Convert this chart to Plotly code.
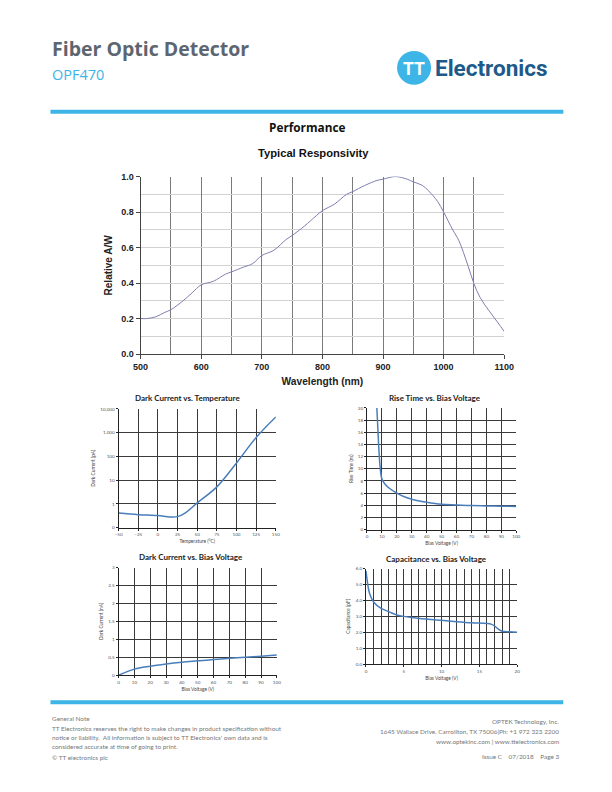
"""
OPF470 datasheet page 3 - performance curves.
"""

import plotly.graph_objects as go

W, H = 612, 792

# the photographed page comes out slightly shrunk; positions below are given
# in target-picture pixels and mapped back to paper units
SX, OX = 0.969, 7.6
SY, OY = 0.99, 4.0

COLORS = {
    "blue_bar": "#3db5e6",
    "header": "#5d6670",
    "logo_text": "#1d5a8a",
    "resp_line": "#7f7fb0",
    "excel_blue": "#4a7ebb",
    "footer": "#777777",
}

# Typical responsivity
resp_wl = [500, 510, 525, 540, 550, 570, 585, 600, 620, 640, 650, 670, 685, 700,
           720, 740, 750, 770, 790, 800, 820, 840, 850, 870, 890, 900, 920, 940,
           950, 965, 975, 990, 1000, 1015, 1025, 1040, 1050, 1060, 1075, 1090, 1100]
resp_val = [0.20, 0.20, 0.21, 0.235, 0.25, 0.30, 0.345, 0.39, 0.41, 0.45, 0.463, 0.49,
            0.51, 0.555, 0.585, 0.645, 0.668, 0.72, 0.78, 0.808, 0.845, 0.90, 0.915,
            0.95, 0.978, 0.985, 1.0, 0.985, 0.97, 0.95, 0.92, 0.86, 0.80, 0.70, 0.64,
            0.50, 0.397, 0.32, 0.244, 0.175, 0.127]

# Dark current vs temperature
dct_temp = [-50, -25, 0, 15, 25, 35, 50, 75, 100, 125, 150]
dct_pa = [0.41, 0.35, 0.32, 0.28, 0.29, 0.42, 1.1, 5.2, 53, 630, 4600]
dct_ticks = [0.1, 1, 10, 100, 1000, 10000]
dct_ticktext = ["0", "1", "10", "100", "1,000", "10,000"]

# Rise time vs bias voltage
rt_bias = [6.6, 7.2, 7.8, 8.4, 9, 10, 12, 15, 20, 25, 30, 40, 50, 60, 70, 80, 90, 100]
rt_ns = [20, 17, 14, 11.5, 9.8, 8.3, 7.5, 6.8, 6.0, 5.4, 5.0, 4.5, 4.15, 4.05, 3.95,
         3.9, 3.85, 3.8]

# Dark current vs bias voltage
dcb_bias = [0, 10, 20, 30, 40, 50, 60, 70, 80, 90, 100]
dcb_na = [0, 0.17, 0.25, 0.31, 0.36, 0.40, 0.44, 0.47, 0.50, 0.53, 0.56]

# Capacitance vs bias voltage
cap_bias = [0, 0.3, 0.5, 1, 2, 3, 4, 5, 6, 8, 10, 12, 14, 16, 16.6, 17, 17.5, 18, 19, 20]
cap_pf = [5.85, 4.8, 4.4, 3.9, 3.5, 3.3, 3.1, 3.0, 2.93, 2.83, 2.75, 2.67, 2.6, 2.55,
          2.5, 2.4, 2.2, 2.07, 2.03, 2.0]
cap_ticks = [0, 1, 2, 3, 4, 5, 6]
cap_ticktext = ["0.0", "1.0", "2.0", "3.0", "4.0", "5.0", "6.0"]


def px(x):
    return (x - OX) / SX / W


def py(y):
    return 1 - (y - OY) / SY / H


def dom_x(left, right):
    return [px(left), px(right)]


def dom_y(top, bottom):
    return [py(bottom), py(top)]


fig = go.Figure()

fig.add_trace(go.Scatter(x=resp_wl, y=resp_val, mode="lines", line_shape="spline",
                         line=dict(color=COLORS["resp_line"], width=1),
                         xaxis="x", yaxis="y"))
fig.add_trace(go.Scatter(x=dct_temp, y=dct_pa, mode="lines", line_shape="spline",
                         line=dict(color=COLORS["excel_blue"], width=1.5),
                         xaxis="x2", yaxis="y2"))
fig.add_trace(go.Scatter(x=rt_bias, y=rt_ns, mode="lines", line_shape="spline",
                         line=dict(color=COLORS["excel_blue"], width=1.5),
                         xaxis="x3", yaxis="y3"))
fig.add_trace(go.Scatter(x=dcb_bias, y=dcb_na, mode="lines", line_shape="spline",
                         line=dict(color=COLORS["excel_blue"], width=1.5),
                         xaxis="x4", yaxis="y4"))
fig.add_trace(go.Scatter(x=cap_bias, y=cap_pf, mode="lines", line_shape="spline",
                         line=dict(color=COLORS["excel_blue"], width=1.5),
                         xaxis="x5", yaxis="y5"))

arial_bold = dict(family="Liberation Sans", size=9, color="#222", weight="bold")
small_tick = dict(family="Lato", size=4.6, color="#555")
small_title = dict(family="Lato", size=4.8, color="#444")

small_axis = dict(
    showline=True, linecolor="#222", linewidth=1,
    showgrid=True, gridcolor="#3a3a3a", gridwidth=1.1,
    ticks="outside", ticklen=2, tickcolor="#222",
    tickfont=small_tick, zeroline=False, fixedrange=True,
)

fig.update_layout(
    width=W, height=H,
    margin=dict(l=0, r=0, t=0, b=0),
    paper_bgcolor="white", plot_bgcolor="white",
    showlegend=False,
    # main responsivity chart
    xaxis=dict(
        domain=dom_x(140, 503), anchor="y", range=[500, 1100], dtick=100,
        showgrid=True, gridcolor="#7a7a7a", gridwidth=1,
        minor=dict(dtick=50, showgrid=True, gridcolor="#7a7a7a", gridwidth=1),
        showline=True, linecolor="#444", ticks="outside", ticklen=4,
        tickcolor="#444", tickfont=arial_bold, zeroline=False,
        title=dict(text="Wavelength (nm)", standoff=6,
                   font=dict(family="Liberation Sans", size=10.2, color="#222",
                             weight="bold")),
    ),
    yaxis=dict(
        domain=dom_y(176, 354), anchor="x", range=[0, 1], dtick=0.2,
        tickformat=".1f",
        showgrid=True, gridcolor="#d2d2d2", gridwidth=1,
        minor=dict(dtick=0.1, showgrid=True, gridcolor="#d2d2d2", gridwidth=1),
        showline=True, linecolor="#444", ticks="outside", ticklen=4,
        tickcolor="#444", tickfont=arial_bold, zeroline=False,
        title=dict(text="Relative A/W", standoff=6,
                   font=dict(family="Liberation Sans", size=10, color="#222",
                             weight="bold")),
    ),
    # dark current vs temperature
    xaxis2=dict(small_axis, domain=dom_x(118, 275), anchor="y2", range=[-50, 150],
                dtick=25, title=dict(text="Temperature (°C)", standoff=3, font=small_title)),
    yaxis2=dict(small_axis, domain=dom_y(409, 528), anchor="x2", type="log",
                range=[-1, 4], tickvals=dct_ticks, ticktext=dct_ticktext,
                title=dict(text="Dark Current (pA)", standoff=4, font=small_title)),
    # rise time vs bias voltage
    xaxis3=dict(small_axis, domain=dom_x(366, 515), anchor="y3", range=[0, 100],
                dtick=10, title=dict(text="Bias Voltage (V)", standoff=3, font=small_title)),
    yaxis3=dict(small_axis, domain=dom_y(408, 530), anchor="x3", range=[0, 20],
                dtick=2, title=dict(text="Rise Time (ns)", standoff=4, font=small_title)),
    # dark current vs bias voltage
    xaxis4=dict(small_axis, domain=dom_x(118, 276), anchor="y4", range=[0, 100],
                dtick=10, title=dict(text="Bias Voltage (V)", standoff=3, font=small_title)),
    yaxis4=dict(small_axis, domain=dom_y(568, 676), anchor="x4", range=[0, 3],
                dtick=0.5, title=dict(text="Dark Current (nA)", standoff=4, font=small_title)),
    # capacitance vs bias voltage
    xaxis5=dict(small_axis, domain=dom_x(365, 516), anchor="y5", range=[0, 20],
                dtick=5, minor=dict(dtick=1, showgrid=True, gridcolor="#3a3a3a"),
                title=dict(text="Bias Voltage (V)", standoff=3, font=small_title)),
    yaxis5=dict(small_axis, domain=dom_y(569, 665), anchor="x5", range=[0, 6],
                tickvals=cap_ticks, ticktext=cap_ticktext,
                title=dict(text="Capacitance (pF)", standoff=4, font=small_title)),
)


def add_text(x, y, text, size, color, family="Open Sans", bold=False,
             xanchor="left", yanchor="middle"):
    fig.add_annotation(
        x=px(x), y=py(y), xref="paper", yref="paper", text=text,
        showarrow=False, xanchor=xanchor, yanchor=yanchor,
        font=dict(family=family, size=size, color=color,
                  weight="bold" if bold else "normal"),
    )


def add_rect(x0, y0, x1, y1, color, kind="rect"):
    fig.add_shape(type=kind, xref="paper", yref="paper",
                  x0=px(x0), x1=px(x1), y0=py(y1), y1=py(y0),
                  fillcolor=color, line=dict(width=0))


# header
add_text(50, 48, "Fiber Optic Detector", 19.5, COLORS["header"], bold=True)
add_text(50, 74, "OPF470", 14.5, COLORS["blue_bar"])
add_rect(396, 50, 430, 84, COLORS["blue_bar"], kind="circle")
add_text(413, 68, "TT", 17.5, "white", family="Roboto", bold=True, xanchor="center")
add_text(432, 67, "Electronics", 22.5, COLORS["logo_text"], family="Roboto", bold=True)
add_rect(50, 109, 562, 113, COLORS["blue_bar"])

# chart titles
add_text(306, 126, "Performance", 11.8, "#111", bold=True, xanchor="center")
add_text(313, 152, "Typical Responsivity", 11.2, "#111", family="Liberation Sans",
         bold=True, xanchor="center")
add_text(187, 398, "Dark Current vs. Temperature", 8, "#222", family="Lato",
         bold=True, xanchor="center")
add_text(434, 398, "Rise Time vs. Bias Voltage", 8, "#222", family="Lato",
         bold=True, xanchor="center")
add_text(190, 557, "Dark Current vs. Bias Voltage", 8, "#222", family="Lato",
         bold=True, xanchor="center")
add_text(435, 559, "Capacitance vs. Bias Voltage", 8, "#222", family="Lato",
         bold=True, xanchor="center")

# footer
add_rect(50, 701, 562, 705, COLORS["blue_bar"])
foot_left = [
    (719, "General Note"),
    (729, "TT Electronics reserves the right to make changes in product specification without"),
    (738, "notice or liability.  All information is subject to TT Electronics' own data and is"),
    (747, "considered accurate at time of going to print."),
    (759, "© TT electronics plc"),
]
for y, t in foot_left:
    add_text(50, y, t, 6.4, COLORS["footer"], family="Lato")
foot_right = [
    (722, "OPTEK Technology, Inc."),
    (732, "1645 Wallace Drive, Carrollton, TX 75006|Ph: +1 972 323 2200"),
    (742, "www.optekinc.com | www.ttelectronics.com"),
    (757, "Issue C    07/2018    Page 3"),
]
for y, t in foot_right:
    add_text(560, y, t, 6.4, COLORS["footer"], family="Lato", xanchor="right")

fig.write_html(
    "out.html",
    config={"displayModeBar": False},
    post_script=(
        "document.documentElement.style.margin='0';"
        "document.documentElement.style.overflow='hidden';"
        "document.body.style.margin='0';"
        "document.body.style.overflow='hidden';"
    ),
)
